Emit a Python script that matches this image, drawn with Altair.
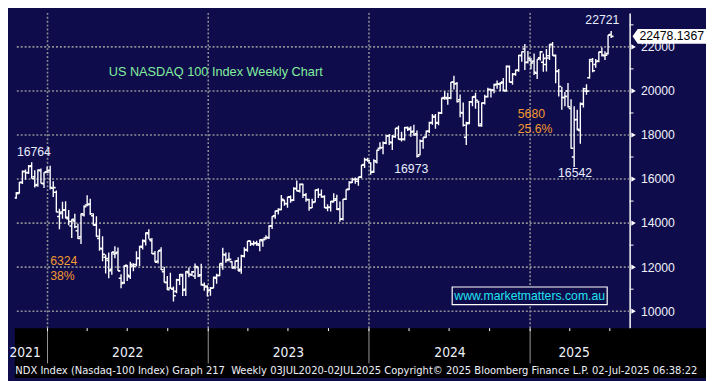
import altair as alt
import pandas as pd

# ---------------- data (weekly OHLC, week ending Friday) ----------------
dates = [
    "2021-10-08", "2021-10-15", "2021-10-22", "2021-10-29", "2021-11-05", "2021-11-12", "2021-11-19",
    "2021-11-26", "2021-12-03", "2021-12-10", "2021-12-17", "2021-12-24", "2021-12-31",
    "2022-01-07", "2022-01-14", "2022-01-21", "2022-01-28", "2022-02-04", "2022-02-11", "2022-02-18",
    "2022-02-25", "2022-03-04", "2022-03-11", "2022-03-18", "2022-03-25", "2022-04-01", "2022-04-08",
    "2022-04-15", "2022-04-22", "2022-04-29", "2022-05-06", "2022-05-13", "2022-05-20", "2022-05-27",
    "2022-06-03", "2022-06-10", "2022-06-17", "2022-06-24", "2022-07-01", "2022-07-08", "2022-07-15",
    "2022-07-22", "2022-07-29", "2022-08-05", "2022-08-12", "2022-08-19", "2022-08-26", "2022-09-02",
    "2022-09-09", "2022-09-16", "2022-09-23", "2022-09-30", "2022-10-07", "2022-10-14", "2022-10-21",
    "2022-10-28", "2022-11-04", "2022-11-11", "2022-11-18", "2022-11-25", "2022-12-02", "2022-12-09",
    "2022-12-16", "2022-12-23", "2022-12-30",
    "2023-01-06", "2023-01-13", "2023-01-20", "2023-01-27", "2023-02-03", "2023-02-10", "2023-02-17",
    "2023-02-24", "2023-03-03", "2023-03-10", "2023-03-17", "2023-03-24", "2023-03-31", "2023-04-07",
    "2023-04-14", "2023-04-21", "2023-04-28", "2023-05-05", "2023-05-12", "2023-05-19", "2023-05-26",
    "2023-06-02", "2023-06-09", "2023-06-16", "2023-06-23", "2023-06-30", "2023-07-07", "2023-07-14",
    "2023-07-21", "2023-07-28", "2023-08-04", "2023-08-11", "2023-08-18", "2023-08-25", "2023-09-01",
    "2023-09-08", "2023-09-15", "2023-09-22", "2023-09-29", "2023-10-06", "2023-10-13", "2023-10-20",
    "2023-10-27", "2023-11-03", "2023-11-10", "2023-11-17", "2023-11-24", "2023-12-01", "2023-12-08",
    "2023-12-15", "2023-12-22", "2023-12-29",
    "2024-01-05", "2024-01-12", "2024-01-19", "2024-01-26", "2024-02-02", "2024-02-09", "2024-02-16",
    "2024-02-23", "2024-03-01", "2024-03-08", "2024-03-15", "2024-03-22", "2024-03-29", "2024-04-05",
    "2024-04-12", "2024-04-19", "2024-04-26", "2024-05-03", "2024-05-10", "2024-05-17", "2024-05-24",
    "2024-05-31", "2024-06-07", "2024-06-14", "2024-06-21", "2024-06-28", "2024-07-05", "2024-07-12",
    "2024-07-19", "2024-07-26", "2024-08-02", "2024-08-09", "2024-08-16", "2024-08-23", "2024-08-30",
    "2024-09-06", "2024-09-13", "2024-09-20", "2024-09-27", "2024-10-04", "2024-10-11", "2024-10-18",
    "2024-10-25", "2024-11-01", "2024-11-08", "2024-11-15", "2024-11-22", "2024-11-29", "2024-12-06",
    "2024-12-13", "2024-12-20", "2024-12-27",
    "2025-01-03", "2025-01-10", "2025-01-17", "2025-01-24", "2025-01-31", "2025-02-07", "2025-02-14",
    "2025-02-21", "2025-02-28", "2025-03-07", "2025-03-14", "2025-03-21", "2025-03-28", "2025-04-04",
    "2025-04-11", "2025-04-18", "2025-04-25", "2025-05-02", "2025-05-09", "2025-05-16", "2025-05-23",
    "2025-05-30", "2025-06-06", "2025-06-13", "2025-06-20", "2025-06-27", "2025-07-04",
]

opens = [
    14560, 14760, 15150, 15380, 15840, 16340, 16300, 16600, 16100, 15750, 16380, 15790, 16330,
    16400, 15580, 15400, 14300, 14500, 14600, 14200, 13870, 14100, 13650, 13380, 14370, 14820, 14860,
    14330, 13930, 13300, 12820, 12450, 12300, 11900, 12600, 12680, 11500, 11300, 12080, 11570, 12050,
    12120, 12400, 12900, 13170, 13520, 13200, 12620, 12270, 12760, 11790, 11300, 11050, 11000, 10900,
    11420, 11600, 11000, 11750, 11650, 11600, 11990, 11650, 11190, 11100,
    10960, 11050, 11500, 11620, 12100, 12550, 12350, 12250, 12000, 12290, 11900, 12500, 12800, 13180,
    13050, 13090, 13000, 13200, 13320, 13350, 13880, 14330, 14560, 14620, 15030, 14880, 15190, 15050,
    15570, 15470, 15760, 15280, 15060, 14700, 14960, 15500, 15300, 15200, 14700, 14720, 14960, 15100,
    14650, 14200, 15080, 15530, 15850, 15980, 15900, 16100, 16660, 16880,
    16740, 16340, 16770, 17400, 17430, 17630, 17950, 17650, 17920, 18300, 17800, 17800, 18330, 18300,
    18170, 18050, 17100, 17720, 17900, 18180, 18570, 18850, 18570, 19000, 19700, 19650, 19680, 20400,
    20330, 19600, 19000, 17900, 18550, 19500, 19750, 19500, 18500, 19450, 19750, 20060, 20040, 20300,
    20300, 20400, 20000, 21100, 20400, 20770, 20950, 21600, 21900, 21300,
    21400, 21350, 20800, 21500, 21300, 21200, 21600, 22100, 21600, 20900, 20000, 19700, 20000, 19200,
    17000, 18700, 18200, 19400, 20000, 20600, 21350, 21200, 21360, 21770, 21600, 21700, 22560,
]

highs = [
    14940, 15160, 15410, 15870, 16390, 16430, 16640, 16764, 16400, 16430, 16480, 16310, 16560,
    16600, 15900, 15480, 14650, 14970, 14990, 14600, 14170, 14420, 13970, 14430, 14810, 15265, 15100,
    14450, 14310, 13740, 13400, 12570, 12660, 12690, 12950, 12890, 11680, 12090, 12100, 12250, 12180,
    12720, 12960, 13260, 13570, 13720, 13320, 12730, 12730, 12900, 12020, 11600, 11740, 11120, 11470,
    11690, 11700, 11810, 11980, 11830, 12170, 12000, 12150, 11300, 11180,
    11100, 11560, 11700, 12170, 12880, 12660, 12660, 12270, 12300, 12450, 12560, 12900, 13190, 13200,
    13200, 13200, 13250, 13300, 13450, 13900, 14310, 14560, 14670, 15280, 15060, 15200, 15250, 15630,
    15930, 15800, 15790, 15370, 15100, 15100, 15530, 15580, 15530, 15260, 14860, 15000, 15350, 15290,
    14980, 15090, 15530, 15900, 16060, 16070, 16100, 16650, 16970, 16970,
    16750, 16900, 17330, 17670, 17700, 17990, 18040, 18000, 18310, 18420, 18150, 18360, 18380, 18400,
    18465, 18200, 17790, 17900, 18200, 18600, 18950, 18950, 19060, 19700, 19980, 19920, 20410, 20690,
    20400, 19840, 19470, 18600, 19540, 19760, 19920, 19550, 19470, 19830, 20150, 20100, 20330, 20470,
    20410, 20590, 21150, 21160, 20810, 20970, 21630, 21790, 22133, 21810,
    21500, 21700, 21440, 21800, 21700, 21900, 22120, 22222, 21650, 21000, 20190, 19950, 20360, 19620,
    19300, 19150, 19480, 20140, 20300, 21450, 21500, 21450, 21780, 21970, 21800, 22540, 22721,
]

lows = [
    14420, 14600, 15100, 15330, 15780, 15970, 16230, 16020, 15620, 15650, 15800, 15590, 16290,
    15530, 15180, 14490, 13725, 14200, 14210, 13900, 13320, 13770, 13280, 13050, 14300, 14760, 14370,
    13890, 13380, 12750, 12270, 11710, 11500, 11650, 12400, 11820, 11040, 11230, 11370, 11460, 11810,
    12040, 12050, 12800, 12980, 13290, 12600, 12220, 12170, 11870, 11300, 10960, 11020, 10440, 10820,
    11190, 10690, 10690, 11540, 11600, 11460, 11550, 11170, 10930, 10670,
    10700, 11040, 11250, 11590, 11880, 12200, 12270, 11940, 11900, 11820, 11700, 12440, 12700, 12960,
    12970, 12970, 12720, 12930, 13240, 13280, 13730, 14200, 14390, 14580, 14790, 14700, 14920, 15000,
    15440, 15390, 15140, 14970, 14560, 14690, 14950, 15140, 15150, 14690, 14540, 14530, 14950, 14600,
    14058, 14120, 15050, 15500, 15820, 15790, 15700, 16040, 16500, 16780,
    16200, 16270, 16700, 17340, 17130, 17580, 17550, 17320, 17880, 17800, 17700, 17750, 18180, 17920,
    17980, 16973, 17080, 17370, 17880, 18090, 18470, 18280, 18440, 18950, 19600, 19370, 19620, 20060,
    19480, 18800, 18390, 17540, 18490, 19300, 19190, 18400, 18370, 19380, 19700, 19700, 19900, 20100,
    19990, 19980, 19970, 20380, 20280, 20690, 20870, 21320, 20950, 21250,
    20980, 20720, 20540, 21380, 20870, 20880, 21400, 21600, 20350, 19750, 19150, 19300, 19250, 17380,
    16542, 18200, 17600, 19250, 19830, 20560, 20850, 21050, 21300, 21560, 21400, 21650, 22400,
]

closes = [
    14780, 15146, 15335, 15850, 16345, 16283, 16573, 16026, 15712, 16410, 15810, 16300, 16320,
    15614, 15611, 14507, 14442, 14590, 14260, 14070, 14170, 13838, 13300, 14420, 14745, 14839, 14428,
    13900, 13398, 12855, 12580, 12387, 11835, 12682, 12620, 11831, 11263, 12041, 11630, 12126, 12040,
    12397, 12947, 13210, 13560, 13270, 12605, 12227, 12739, 11880, 11310, 10971, 11040, 10700, 11430,
    11666, 10958, 11804, 11677, 11786, 12030, 11600, 11207, 11140, 10940,
    11040, 11541, 11620, 12167, 12574, 12305, 12360, 11960, 12270, 11830, 12520, 12767, 13181, 13060,
    13080, 13060, 13246, 13240, 13340, 13860, 14298, 14546, 14615, 15083, 14891, 15179, 15032, 15565,
    15460, 15755, 15274, 15074, 14695, 14942, 15490, 15290, 15202, 14701, 14715, 14995, 15040, 14622,
    14181, 15082, 15529, 15840, 15983, 15997, 16084, 16623, 16878, 16826,
    16306, 16832, 17314, 17421, 17643, 17963, 17685, 17937, 18302, 17809, 17808, 18339, 18255, 18140,
    18003, 17037, 17718, 17891, 18161, 18546, 18809, 18537, 19000, 19659, 19700, 19683, 20392, 20331,
    19523, 19023, 18440, 18513, 19508, 19720, 19575, 18421, 19455, 19736, 20065, 20034, 20272, 20324,
    20352, 20033, 21118, 20394, 20744, 20930, 21622, 21780, 21289, 21480,
    21270, 20847, 21441, 21774, 21478, 21491, 22114, 21614, 20884, 20201, 19704, 19754, 19281, 17398,
    18690, 18258, 19432, 20102, 19992, 21427, 20915, 21340, 21762, 21631, 21626, 22534, 22478,
]

last_price = 22478.1367
last_label = "22478.1367"

y_major = [10000, 12000, 14000, 16000, 18000, 20000, 22000]
y_minor = [11000, 13000, 15000, 17000, 19000, 21000, 23000]
year_starts = ["2022-01-01", "2023-01-01", "2024-01-01", "2025-01-01"]
quarter_starts = [
    "2022-01-01", "2022-04-01", "2022-07-01", "2022-10-01",
    "2023-01-01", "2023-04-01", "2023-07-01", "2023-10-01",
    "2024-01-01", "2024-04-01", "2024-07-01", "2024-10-01",
    "2025-01-01", "2025-04-01", "2025-07-01",
]
year_label_dates = ["2021-11-10", "2022-07-01", "2023-07-01", "2024-07-02", "2025-04-10"]

ann_text = ["16764", "6324", "38%", "16973", "5680", "25.6%", "16542", "22721"]
ann_date = ["2021-12-01", "2022-01-07", "2022-01-07", "2024-04-06", "2024-12-04", "2024-12-04",
            "2025-04-13", "2025-06-14"]
ann_value = [17231, 12253, 11587, 16431, 18964, 18253, 16253, 23231]
ann_kind = ["level", "move", "move", "level", "move", "move", "level", "level"]

title_text = "US NASDAQ 100 Index Weekly Chart"
title_date = "2022-05-20"
title_value = 20876

site_text = "www.marketmatters.com.au"
site_box_dates = ["2024-07-08", "2025-06-25"]
site_box_values = [10298, 11098]

footer = ("NDX Index (Nasdaq-100 Index) Graph 217\u00a0 Weekly 03JUL2020-02JUL2025 "
          "Copyright\u00a9 2025 Bloomberg Finance L.P. 02-Jul-2025 06:38:22")

# ---------------- layout / style ----------------
# the page margin is 8px, so the visible window starts 8px into the original frame
W, H = 628, 322
RIGHT, BOTTOM = 78, 51
NAVY = "#0f0c4b"
GRID = "#8e8e96"
WHITE = "#ffffff"
ORANGE = "#f39a30"
GREEN = "#82ee9e"
CYAN = "#1fe3f2"
LABEL = "#eef0fa"
SANS = "Liberation Sans, Arial, sans-serif"
NARROW = "DejaVu Sans Condensed, Liberation Sans Narrow, Arial Narrow, sans-serif"


def ms(s):
    return int(pd.Timestamp(s, tz="UTC").timestamp() * 1000)


x_scale = alt.Scale(type="utc", domain=[ms("2021-10-18 19:00"), ms("2025-08-15")])
y_scale = alt.Scale(domain=[9231, 23542], nice=False, zero=False)

x_axis = alt.Axis(
    values=[ms(d) for d in year_label_dates],
    labelExpr="utcFormat(datum.value, '%Y')",
    tickSize=0, domain=False, grid=False, labelOverlap=False, labelFlush=False,
    labelPadding=25, labelBaseline="middle", labelColor=LABEL, labelFont=NARROW,
    labelFontSize=14, zindex=1,
    title=footer, titleX=0, titleY=43, titleAlign="left", titleAnchor="start",
    titleBaseline="middle", titleColor=LABEL, titleFont=NARROW, titleFontSize=11.3,
    titleFontWeight="normal",
)
y_axis = alt.Axis(
    orient="right", values=y_major, format="d", tickSize=0, grid=False,
    domain=True, domainColor=WHITE, domainWidth=1.5,
    labelPadding=11, labelColor=LABEL, labelFont=SANS, labelFontSize=12.5,
    labelBaseline="middle", title="", zindex=0,
)

# every layer carries the same axis definition so the merged axis is unambiguous
X = lambda f: alt.X(f, type="temporal", scale=x_scale, axis=x_axis)
Y = lambda f: alt.Y(f, type="quantitative", scale=y_scale, axis=y_axis)

ohlc = pd.DataFrame({
    "date": [ms(d) for d in dates],
    "open": opens, "high": highs, "low": lows, "close": closes,
})

one = pd.DataFrame({"a": [0]})

strip = alt.Chart(one).mark_rect(color="#000000").encode(
    x=alt.value(0), x2=alt.value(W + RIGHT), y=alt.value(H), y2=alt.value(H + BOTTOM)
)

hgrid = alt.Chart(pd.DataFrame({"v": y_major})).mark_rule(
    color=GRID, strokeDash=[2, 2], strokeWidth=1.6
).encode(y=Y("v"))

vgrid = alt.Chart(pd.DataFrame({"d": [ms(d) for d in year_starts]})).mark_rule(
    color=GRID, strokeDash=[2, 2], strokeWidth=1.6
).encode(x=X("d"))

year_sep = alt.Chart(pd.DataFrame({"d": [ms(d) for d in year_starts]})).mark_rule(
    color="#9a9a9a", strokeWidth=1
).encode(x=X("d"), y=alt.value(H + 1), y2=alt.value(H + 36))

qticks = alt.Chart(pd.DataFrame({"d": [ms(d) for d in quarter_starts]})).mark_rule(
    color=WHITE, strokeWidth=1
).encode(x=X("d"), y=alt.value(H), y2=alt.value(H + 3))

bars = alt.Chart(ohlc).mark_rule(color=WHITE, strokeWidth=1.4, clip=True).encode(
    x=X("date"), y=Y("low"), y2="high"
)
open_t = alt.Chart(ohlc).mark_rule(
    color=WHITE, strokeWidth=1.6, xOffset=-2.4, x2Offset=0, clip=True
).encode(x=X("date"), x2="date", y=Y("open"))
close_t = alt.Chart(ohlc).mark_rule(
    color=WHITE, strokeWidth=1.6, xOffset=0, x2Offset=2.4, clip=True
).encode(x=X("date"), x2="date", y=Y("close"))

minor = alt.Chart(pd.DataFrame({"v": y_minor})).mark_rule(color=WHITE, strokeWidth=1).encode(
    y=Y("v"), x=alt.value(W), x2=alt.value(W + 4)
)
arrows = alt.Chart(pd.DataFrame({"v": y_major})).mark_point(
    shape="triangle-right", filled=True, size=28, color=WHITE, opacity=1
).encode(y=Y("v"), x=alt.value(W + 4))

tag_df = pd.DataFrame({"v": [last_price], "t": [last_label]})
tag = alt.Chart(tag_df).mark_point(
    shape="M0,0 L0.7,-1 L10,-1 L10,1 L0.7,1 Z", filled=True, size=225,
    color=WHITE, opacity=1, strokeWidth=0
).encode(y=Y("v"), x=alt.value(W + 3))
tag_text = alt.Chart(tag_df).mark_text(
    align="left", baseline="middle", font=SANS, fontSize=12.5, color="#000000"
).encode(y=Y("v"), x=alt.value(W + 10), text="t:N")

ann = pd.DataFrame({
    "t": ann_text, "d": [ms(d) for d in ann_date], "v": ann_value, "k": ann_kind,
})
levels = alt.Chart(ann[ann.k == "level"]).mark_text(
    align="center", baseline="middle", font=SANS, fontSize=12.5, color="#e8eeff"
).encode(x=X("d"), y=Y("v"), text="t:N")
moves = alt.Chart(ann[ann.k == "move"]).mark_text(
    align="left", baseline="middle", font=SANS, fontSize=12.5, color=ORANGE
).encode(x=X("d"), y=Y("v"), text="t:N")

title_df = pd.DataFrame({"t": [title_text], "d": [ms(title_date)], "v": [title_value]})
title = alt.Chart(title_df).mark_text(
    align="left", baseline="middle", font=SANS, fontSize=13, color=GREEN
).encode(x=X("d"), y=Y("v"), text="t:N")

site_df = pd.DataFrame({
    "d1": [ms(site_box_dates[0])], "d2": [ms(site_box_dates[1])],
    "v1": [site_box_values[0]], "v2": [site_box_values[1]], "t": [site_text],
})
site_box = alt.Chart(site_df).mark_rect(fill=NAVY, stroke=WHITE, strokeWidth=1.2).encode(
    x=X("d1"), x2="d2", y=Y("v1"), y2="v2"
)
site_lbl = alt.Chart(site_df).transform_calculate(
    dm="(datum.d1 + datum.d2) / 2", vm="(datum.v1 + datum.v2) / 2"
).mark_text(align="center", baseline="middle", font=SANS, fontSize=12.5, color=CYAN).encode(
    x=X("dm"), y=Y("vm"), text="t:N"
)

chart = alt.layer(
    strip, hgrid, vgrid, year_sep, qticks, bars, open_t, close_t,
    minor, arrows, tag, tag_text, levels, moves, title, site_box, site_lbl,
).properties(
    width=W, height=H, padding=0, background=NAVY
).configure_view(
    fill=NAVY, stroke=None
)

chart.save("out.html", embed_options={"renderer": "svg", "actions": False})
